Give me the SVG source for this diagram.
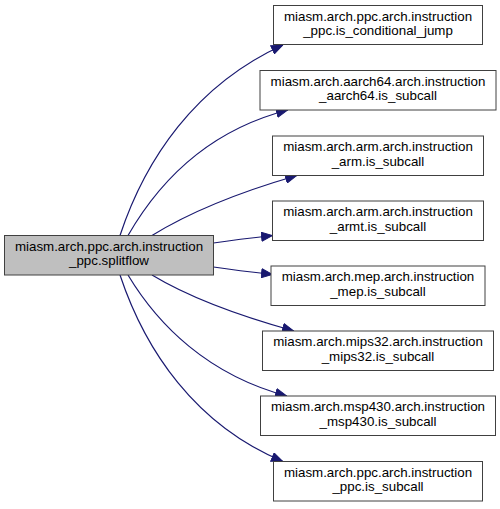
<svg xmlns="http://www.w3.org/2000/svg" width="500" height="509" viewBox="0 0 500 509">
<style>
.node rect{fill:#ffffff;stroke:#404040;stroke-width:1}
.node.main rect{fill:#bfbfbf}
.node text{font-family:"Liberation Sans",Arial,Helvetica,sans-serif;font-size:13.33px;fill:#000000;text-anchor:middle}
.edges path{fill:none;stroke:#191970;stroke-width:1.2;marker-end:url(#arrow)}
</style>
<defs>
<marker id="arrow" markerUnits="userSpaceOnUse" viewBox="0 0 12 10" refX="12" refY="5" markerWidth="12" markerHeight="10" orient="auto">
<path d="M0.5,0.5 L11.5,5 L0.5,9.5 z" fill="#191970" stroke="#191970" stroke-width="1"/>
</marker>
</defs>
<rect width="500" height="509" fill="#ffffff"/>
<g class="edges">
<path d="M120,235.5 C145,160 195,85 283,45"/>
<path d="M128,235.5 C160,180 210,130 288,110"/>
<path d="M152,235.5 C190,212 240,192 297,175.5"/>
<path d="M213.5,243 C230,240.5 250,238 273,235.5"/>
<path d="M213.5,267 C230,269.5 250,272 273,274.5"/>
<path d="M152,275 C190,298 240,316 294,331"/>
<path d="M128,275 C158,325 208,375 287,396"/>
<path d="M120,275 C145,350 195,425 283,461.5"/>
</g>
<g id="node_main" class="node main">
<rect x="4.5" y="235.5" width="209" height="39.5"/>
<text x="109" y="250.5">miasm.arch.ppc.arch.instruction</text>
<text x="109" y="265">_ppc.splitflow</text>
</g>
<g id="node_ppc_is_conditional_jump" class="node">
<rect x="273.5" y="5.5" width="209" height="39"/>
<text x="378" y="20.5">miasm.arch.ppc.arch.instruction</text>
<text x="378" y="35">_ppc.is_conditional_jump</text>
</g>
<g id="node_aarch64_is_subcall" class="node">
<rect x="260" y="70.5" width="236" height="39.5"/>
<text x="378" y="85.5">miasm.arch.aarch64.arch.instruction</text>
<text x="378" y="100">_aarch64.is_subcall</text>
</g>
<g id="node_arm_is_subcall" class="node">
<rect x="272.5" y="136" width="211" height="39.5"/>
<text x="378" y="151">miasm.arch.arm.arch.instruction</text>
<text x="378" y="165.5">_arm.is_subcall</text>
</g>
<g id="node_armt_is_subcall" class="node">
<rect x="272.5" y="201" width="211" height="39.5"/>
<text x="378" y="216">miasm.arch.arm.arch.instruction</text>
<text x="378" y="230.5">_armt.is_subcall</text>
</g>
<g id="node_mep_is_subcall" class="node">
<rect x="271" y="266" width="214" height="39.5"/>
<text x="378" y="281">miasm.arch.mep.arch.instruction</text>
<text x="378" y="295.5">_mep.is_subcall</text>
</g>
<g id="node_mips32_is_subcall" class="node">
<rect x="262.5" y="331" width="231" height="39.5"/>
<text x="378" y="346">miasm.arch.mips32.arch.instruction</text>
<text x="378" y="360.5">_mips32.is_subcall</text>
</g>
<g id="node_msp430_is_subcall" class="node">
<rect x="260.5" y="396" width="235" height="39.5"/>
<text x="378" y="411">miasm.arch.msp430.arch.instruction</text>
<text x="378" y="425.5">_msp430.is_subcall</text>
</g>
<g id="node_ppc_is_subcall" class="node">
<rect x="273.5" y="461.5" width="209" height="39.5"/>
<text x="378" y="476.5">miasm.arch.ppc.arch.instruction</text>
<text x="378" y="491">_ppc.is_subcall</text>
</g>
</svg>
